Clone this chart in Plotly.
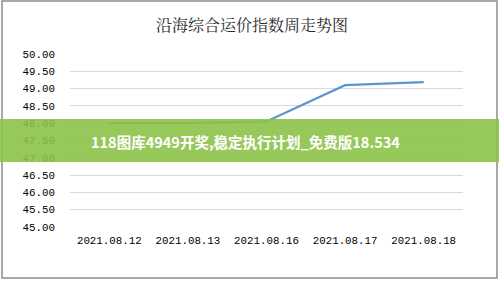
import plotly.graph_objects as go

dates = ["2021.08.12", "2021.08.13", "2021.08.16", "2021.08.17", "2021.08.18"]
values = [48.00, 48.00, 48.05, 49.10, 49.19]
y_ticks = [45.0, 45.5, 46.0, 46.5, 47.0, 47.5, 48.0, 48.5, 49.0, 49.5, 50.0]
y_tick_text = [f"{v:.2f}" for v in y_ticks]
title_text = "沿海综合运价指数周走势图"
banner_text = "118图库4949开奖,稳定执行计划_免费版18.534"

W, H = 499, 282
L, R, T, B = 70, 36, 54, 55
pw, ph = W - L - R, H - T - B

def px(x):
    return (x - L) / pw

def py(y):
    return 1 - (y - T) / ph

tick_font = dict(family="Liberation Mono, DejaVu Sans Mono", size=10.8, color="#000000")

fig = go.Figure()
fig.add_trace(go.Scatter(
    x=dates, y=values, mode="lines",
    line=dict(color="#5A96CE", width=2.2),
    hoverinfo="skip", showlegend=False,
))

fig.update_layout(
    width=W, height=H,
    margin=dict(l=L, r=R, t=T, b=B),
    paper_bgcolor="white", plot_bgcolor="white",
    title=dict(text=title_text, x=px(252), xref="paper", xanchor="center",
               y=1 - 25 / H, yanchor="middle",
               font=dict(family="Noto Serif CJK SC, Noto Sans CJK SC", size=16, color="#2a2a2a")),
    xaxis=dict(type="category", range=[-0.5, len(dates) - 0.5],
               showgrid=False, showline=False, zeroline=False,
               ticks="", tickfont=tick_font, ticklabelstandoff=5),
    yaxis=dict(range=[45, 50], tickvals=y_ticks, ticktext=y_tick_text,
               showgrid=True, gridcolor="#D9D9D9", gridwidth=1, zeroline=False,
               showline=False, ticks="", tickfont=tick_font,
               ticklabelstandoff=14),
    shapes=[
        dict(type="rect", xref="paper", yref="paper",
             x0=px(2), x1=px(497), y0=py(278), y1=py(1),
             line=dict(color="#8C8C8C", width=1.5), fillcolor="rgba(0,0,0,0)", layer="above"),
        dict(type="rect", xref="paper", yref="paper",
             x0=px(0), x1=px(499), y0=py(162), y1=py(119),
             line=dict(width=0), fillcolor="rgba(140,194,72,0.9)", layer="above"),
    ],
    annotations=[
        dict(text=banner_text, xref="paper", yref="paper",
             x=px(245), y=py(141), xanchor="center", yanchor="middle",
             showarrow=False,
             font=dict(family="Noto Sans CJK SC", size=14.5, color="white", weight="bold")),
    ],
)

fig.write_html("out.html")
